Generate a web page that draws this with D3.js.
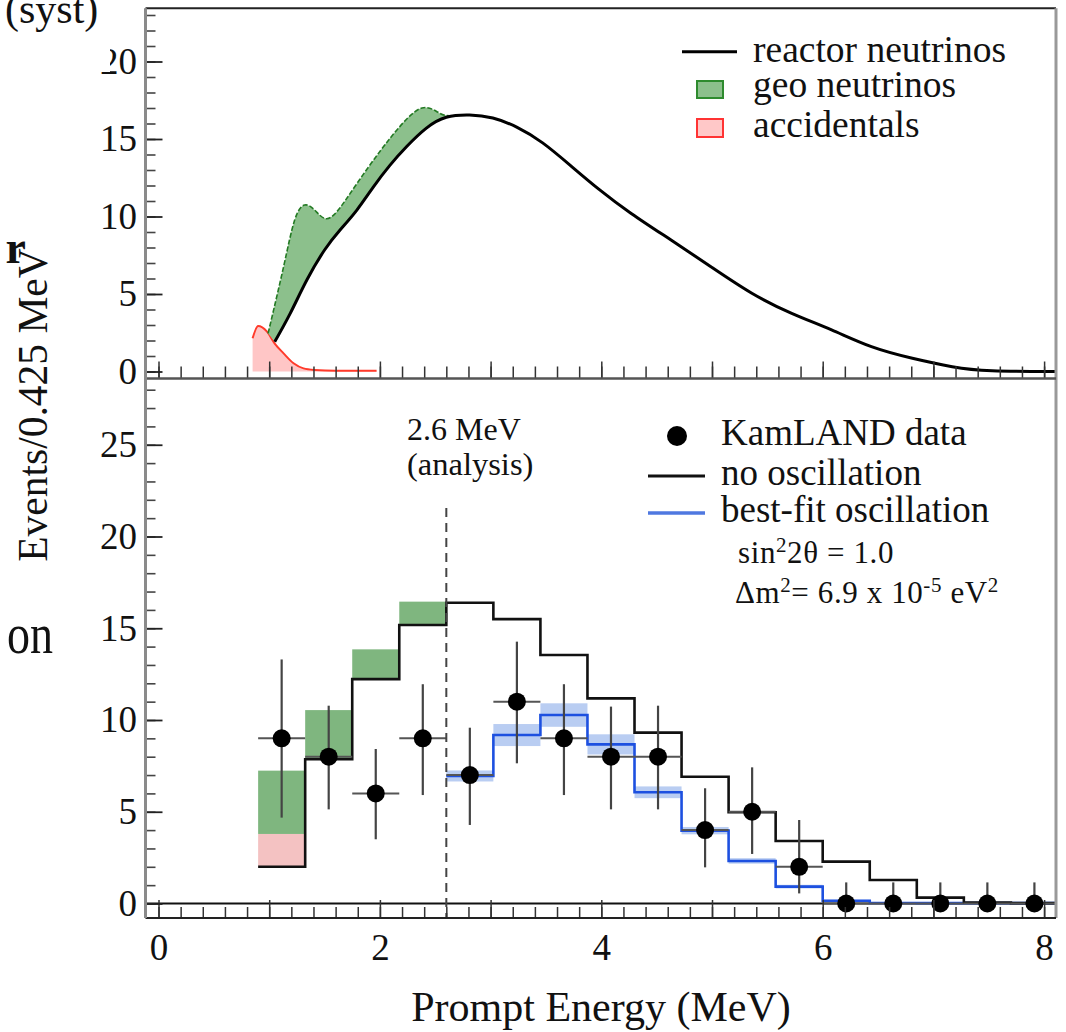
<!DOCTYPE html>
<html><head><meta charset="utf-8">
<script src="https://cdn.jsdelivr.net/npm/d3@7"></script>
<style>
body{margin:0;background:#fff}
svg{display:block}
text{font-family:"Liberation Serif","Times New Roman",serif;fill:#111}
</style>
</head><body>
<svg id="c" width="1066" height="1032"></svg>
<script>
// ---------- DATA ----------
// Top panel: expected spectra (Events / 0.425 MeV vs prompt energy, MeV)
const reactorE = [1.05,1.19,1.34,1.50,1.64,1.79,1.94,2.09,2.24,2.42,2.60,2.81,3.02,3.24,3.47,3.72,3.98,4.27,4.63,4.99,5.36,5.72,6.08,6.44,6.81,7.17,7.53,8.04,8.12];
const reactorV = [1.92,3.75,5.9,7.84,9.13,10.4,11.9,13.3,14.5,15.7,16.4,16.55,16.35,15.75,14.75,13.3,11.75,10.2,8.48,6.76,5.05,3.75,2.68,1.6,0.85,0.31,0.05,0.0,0.0];
const geoE = [0.99,1.13,1.23,1.32,1.41,1.50,1.61,1.79,2.00,2.18,2.38,2.54,2.63,2.70];
const geoTop = [2.46,6.76,9.77,10.74,10.42,9.88,10.3,12.1,14.2,15.8,17.0,16.66,16.5,16.48];
const accE = [0.85,0.90,0.98,1.05,1.13,1.22,1.31,1.41,1.60,1.97];
const accV = [2.14,2.93,2.57,1.80,1.17,0.53,0.20,0.10,0.05,0.05];

// Bottom panel: histogram bins (0.425 MeV wide)
const binEdges = [0.9,1.325,1.75,2.175,2.6,3.025,3.45,3.875,4.3,4.725,5.15,5.575,6.0,6.425,6.85,7.275,7.7,8.125];
const noOsc = [2.0,7.86,12.23,15.18,16.39,15.5,13.54,11.18,9.31,6.91,4.97,3.41,2.28,1.28,0.32,0.05,0.02];
const geoBinTop = [7.24,10.54,13.85,16.45];   // geo neutrino band tops, bins 1-4
const accBinTop = [3.79];                      // accidentals top, bin 1
const bestFit = [6.95,9.18,10.27,8.67,6.06,3.97,2.32,0.92,0.15,0.03,0.02,0.02,0.02]; // from 2.6 MeV
const bestFitErr = [0.3,0.6,0.64,0.55,0.32,0.2,0.15,0.1,0.05,0,0,0,0];
const dataE = [1.1125,1.5375,1.9625,2.3875,2.8125,3.2375,3.6625,4.0875,4.5125,4.9375,5.3625,5.7875,6.2125,6.6375,7.0625,7.4875,7.9125];
const dataV = [9,8,6,9,7,11,9,8,8,4,5,2,0,0,0,0,0];
const dataLo = [4.68,5.13,3.5,5.91,4.28,7.64,5.91,5.13,5.13,1.97,2.7,0.55,0,0,0,0,0];
const dataHi = [13.3,10.78,8.42,11.95,9.58,14.27,11.95,10.73,10.78,6.28,7.42,4.55,1.15,1.15,1.15,1.15,1.15];
const threshold = 2.6;

const xTickLabels = [0,2,4,6,8];
const yTopTickLabels = [0,5,10,15,20];
const yBotTickLabels = [0,5,10,15,20,25];

// ---------- LAYOUT ----------
const L = 145.5, R = 1056, T = 8.3, M = 378.5, B = 918;
const svg = d3.select("#c");
const x = d3.scaleLinear().domain([0, 8]).range([158.5, 1044.1]);
const yT = d3.scaleLinear().domain([0, 20]).range([371.5, 61.5]);
const yB = d3.scaleLinear().domain([0, 25]).range([903.5, 444.75]);

const defs = svg.append("defs");
defs.append("clipPath").attr("id","clipT").append("rect").attr("x",L).attr("y",T).attr("width",R-L).attr("height",M-T);
defs.append("clipPath").attr("id","clipB").append("rect").attr("x",L).attr("y",M).attr("width",R-L).attr("height",B-M);

// ---------- TOP PANEL ----------
const gT = svg.append("g").attr("clip-path","url(#clipT)");
const lineT = d3.line().x(d=>x(d[0])).y(d=>yT(d[1])).curve(d3.curveNatural);
const reactPts = reactorE.map((e,i)=>[e, reactorV[i]]);
const geoPts = geoE.map((e,i)=>[e, geoTop[i]]);
const lowerPts = reactPts.filter(p=>p[0]<=2.61).reverse();

// accidentals
const accPts = accE.map((e,i)=>[e, accV[i]]);
gT.append("path")
  .attr("d", d3.area().x(d=>x(d[0])).y0(yT(0)).y1(d=>yT(d[1])).curve(d3.curveMonotoneX)(accPts))
  .attr("fill","#ffc6c6");
gT.append("path").attr("d", d3.line().x(d=>x(d[0])).y(d=>yT(d[1])).curve(d3.curveMonotoneX)(accPts))
  .attr("fill","none").attr("stroke","#ff3a2a").attr("stroke-width",2);

// geo neutrinos band
gT.append("path")
  .attr("d", lineT(geoPts) + lineT(lowerPts).replace(/^M/,"L") + "Z")
  .attr("fill","#8cc08c");
gT.append("path").attr("d", lineT(geoPts)).attr("fill","none")
  .attr("stroke","#237a23").attr("stroke-width",1.6).attr("stroke-dasharray","5,2");

// reactor
gT.append("path").attr("d", lineT(reactPts)).attr("fill","none").attr("stroke","#000").attr("stroke-width",3);

// ---------- BOTTOM PANEL ----------
const gB = svg.append("g").attr("clip-path","url(#clipB)");
const nb = binEdges.length - 1;

accBinTop.forEach((v,i)=>{
  gB.append("rect").attr("x",x(binEdges[i])).attr("width",x(binEdges[i+1])-x(binEdges[i]))
    .attr("y",yB(v)).attr("height",yB(noOsc[i])-yB(v)).attr("fill","#f4c2c2");
});
geoBinTop.forEach((v,i)=>{
  const base = i < accBinTop.length ? accBinTop[i] : noOsc[i];
  gB.append("rect").attr("x",x(binEdges[i])).attr("width",x(binEdges[i+1])-x(binEdges[i]))
    .attr("y",yB(v)).attr("height",yB(base)-yB(v)).attr("fill","#7fb67f");
});

const bfStart = binEdges.indexOf(threshold);
bestFit.forEach((v,i)=>{
  const e = bestFitErr[i]; if(!e) return;
  const k = bfStart + i;
  gB.append("rect").attr("x",x(binEdges[k])).attr("width",x(binEdges[k+1])-x(binEdges[k]))
    .attr("y",yB(v+e)).attr("height",yB(v-e)-yB(v+e)).attr("fill","#b9cdf2");
});

const stepLine = d3.line().x(d=>x(d[0])).y(d=>yB(d[1])).curve(d3.curveStepAfter);
const noOscPts = binEdges.map((e,i)=>[e, noOsc[Math.min(i, nb-1)]]);
const bfPts = binEdges.slice(bfStart).map((e,i)=>[e, bestFit[Math.min(i, bestFit.length-1)]]);

gB.append("line").attr("x1",L).attr("x2",R).attr("y1",yB(0)).attr("y2",yB(0)).attr("stroke","#111").attr("stroke-width",2);
gB.append("path").attr("d", stepLine(bfPts)).attr("fill","none").attr("stroke","#1d50e0").attr("stroke-width",2.6);
gB.append("path").attr("d", stepLine(noOscPts)).attr("fill","none").attr("stroke","#111").attr("stroke-width",2.6);

svg.append("line").attr("x1",x(threshold)).attr("x2",x(threshold)).attr("y1",508).attr("y2",B)
  .attr("stroke","#444").attr("stroke-width",2).attr("stroke-dasharray","9,6");

const dg = gB.append("g");
dataE.forEach((e,i)=>{
  dg.append("line").attr("x1",x(binEdges[i])).attr("x2",x(binEdges[i+1]))
    .attr("y1",yB(dataV[i])).attr("y2",yB(dataV[i])).attr("stroke","#555").attr("stroke-width",2);
  dg.append("line").attr("x1",x(e)).attr("x2",x(e)).attr("y1",yB(dataLo[i])).attr("y2",yB(dataHi[i]))
    .attr("stroke","#444").attr("stroke-width",2.2);
});
dg.selectAll("circle").data(dataE).join("circle")
  .attr("cx",d=>x(d)).attr("cy",(d,i)=>yB(dataV[i])).attr("r",9).attr("fill","#000");

// ---------- AXES / TICKS ----------
function styleTicks(g, col, w){ g.select(".domain").remove(); g.selectAll("line").attr("stroke",col).attr("stroke-width",w); g.selectAll("text").remove(); }
const xMinor = d3.range(0, 8.001, 0.2).map(v=>+v.toFixed(1));
const xMajor = d3.range(0, 8.001, 1);
svg.append("g").attr("transform",`translate(0,${M})`).call(d3.axisTop(x).tickValues(xMinor).tickSize(12)).call(g=>styleTicks(g,"#333",1.5));
svg.append("g").attr("transform",`translate(0,${M})`).call(d3.axisTop(x).tickValues(xMajor).tickSize(17)).call(g=>styleTicks(g,"#333",1.5));
svg.append("g").attr("transform",`translate(0,${B})`).call(d3.axisTop(x).tickValues(xMinor).tickSize(11)).call(g=>styleTicks(g,"#333",1.5));
svg.append("g").attr("transform",`translate(0,${B})`).call(d3.axisTop(x).tickValues(xMajor).tickSize(18)).call(g=>styleTicks(g,"#333",1.5));
const yTMinor = d3.range(0, 24, 1), yTMajor = d3.range(0, 24, 5);
const yBMinor = d3.range(0, 29, 1), yBMajor = d3.range(0, 29, 5);
svg.append("g").attr("transform",`translate(${L},0)`).call(d3.axisRight(yT).tickValues(yTMinor).tickSize(10)).call(g=>styleTicks(g,"#444",1.6));
svg.append("g").attr("transform",`translate(${L},0)`).call(d3.axisRight(yT).tickValues(yTMajor).tickSize(17)).call(g=>styleTicks(g,"#222",1.8));
svg.append("g").attr("transform",`translate(${L},0)`).call(d3.axisRight(yB).tickValues(yBMinor).tickSize(10)).call(g=>styleTicks(g,"#444",1.6));
svg.append("g").attr("transform",`translate(${L},0)`).call(d3.axisRight(yB).tickValues(yBMajor).tickSize(17)).call(g=>styleTicks(g,"#222",1.8));

// frame
svg.append("line").attr("x1",L).attr("x2",R).attr("y1",T).attr("y2",T).attr("stroke","#222").attr("stroke-width",2);
svg.append("line").attr("x1",R).attr("x2",R).attr("y1",T).attr("y2",B).attr("stroke","#999").attr("stroke-width",3);
svg.append("line").attr("x1",L).attr("x2",R).attr("y1",M).attr("y2",M).attr("stroke","#555").attr("stroke-width",2.5);
svg.append("line").attr("x1",L).attr("x2",R).attr("y1",B).attr("y2",B).attr("stroke","#222").attr("stroke-width",2);
svg.append("line").attr("x1",L).attr("x2",L).attr("y1",T).attr("y2",B).attr("stroke","#8a8a8a").attr("stroke-width",3);

// tick labels via axes
function styleLabels(g, fs){ g.select(".domain").remove(); g.selectAll("line").remove(); g.selectAll("text").attr("font-size",fs).attr("font-family","Liberation Serif, Times New Roman, serif").attr("fill","#111"); }
svg.append("g").attr("transform",`translate(0,${B})`).call(d3.axisBottom(x).tickValues(xTickLabels).tickSize(0).tickPadding(16).tickFormat(d3.format("d"))).call(g=>styleLabels(g,37));
svg.append("g").attr("transform",`translate(${L},0)`).call(d3.axisLeft(yT).tickValues(yTopTickLabels).tickSize(0).tickPadding(8.5).tickFormat(d3.format("d"))).call(g=>styleLabels(g,37));
svg.append("g").attr("transform",`translate(${L},0)`).call(d3.axisLeft(yB).tickValues(yBotTickLabels).tickSize(0).tickPadding(8.5).tickFormat(d3.format("d"))).call(g=>styleLabels(g,37));

// fragments of neighbouring figure text
svg.append("rect").attr("x",0).attr("y",0).attr("width",110).attr("height",72).attr("fill","#fff");
svg.append("text").attr("x",5).attr("y",23).attr("font-size",42).text("(syst)");
svg.append("text").attr("x",26).attr("y",263).attr("font-size",46).attr("font-weight","bold").attr("text-anchor","end").text("r");
svg.append("g").attr("transform","translate(53,653) scale(1,1.25)")
  .append("text").attr("font-size",46).attr("text-anchor","end").text("on");

// axis titles
svg.append("text").attr("transform","translate(46.5,405) rotate(-90)").attr("text-anchor","middle").attr("font-size",41.5).text("Events/0.425 MeV");
svg.append("text").attr("x",601).attr("y",1021).attr("text-anchor","middle").attr("font-size",42).text("Prompt Energy (MeV)");

// threshold annotation
svg.append("text").attr("x",407).attr("y",440).attr("font-size",32).text("2.6 MeV");
svg.append("text").attr("x",407).attr("y",475).attr("font-size",32.5).text("(analysis)");

// top legend
svg.append("line").attr("x1",682).attr("x2",737).attr("y1",51.7).attr("y2",51.7).attr("stroke","#000").attr("stroke-width",3);
svg.append("text").attr("x",753).attr("y",62).attr("font-size",37.5).text("reactor neutrinos");
svg.append("rect").attr("x",697).attr("y",81).attr("width",26).attr("height",17).attr("fill","#8cc08c").attr("stroke","#2e8b2e").attr("stroke-width",2);
svg.append("text").attr("x",753).attr("y",97).attr("font-size",37.5).text("geo neutrinos");
svg.append("rect").attr("x",697).attr("y",119).attr("width",26).attr("height",18).attr("fill","#ffc8c8").attr("stroke","#ff3333").attr("stroke-width",2);
svg.append("text").attr("x",753).attr("y",137).attr("font-size",37.5).text("accidentals");

// bottom legend
svg.append("circle").attr("cx",677).attr("cy",436).attr("r",10).attr("fill","#000");
svg.append("text").attr("x",721).attr("y",445).attr("font-size",37).text("KamLAND data");
svg.append("line").attr("x1",648).attr("x2",705).attr("y1",476).attr("y2",476).attr("stroke","#111").attr("stroke-width",3);
svg.append("text").attr("x",721).attr("y",485).attr("font-size",37).text("no oscillation");
svg.append("line").attr("x1",648).attr("x2",705).attr("y1",513).attr("y2",513).attr("stroke","#4f78e0").attr("stroke-width",3.5);
svg.append("text").attr("x",721).attr("y",522).attr("font-size",37).text("best-fit oscillation");
const t1 = svg.append("text").attr("x",738).attr("y",563).attr("font-size",31).attr("letter-spacing",0.6);
t1.append("tspan").text("sin");
t1.append("tspan").attr("dy",-11).attr("font-size",21).text("2");
t1.append("tspan").attr("dy",11).text("2θ = 1.0");
const t2 = svg.append("text").attr("x",735).attr("y",603).attr("font-size",31).attr("letter-spacing",0.6);
t2.append("tspan").text("Δm");
t2.append("tspan").attr("dy",-11).attr("font-size",21).text("2");
t2.append("tspan").attr("dy",11).text("= 6.9 x 10");
t2.append("tspan").attr("dy",-11).attr("font-size",21).text("-5");
t2.append("tspan").attr("dy",11).text(" eV");
t2.append("tspan").attr("dy",-11).attr("font-size",21).text("2");
</script>
</body></html>
